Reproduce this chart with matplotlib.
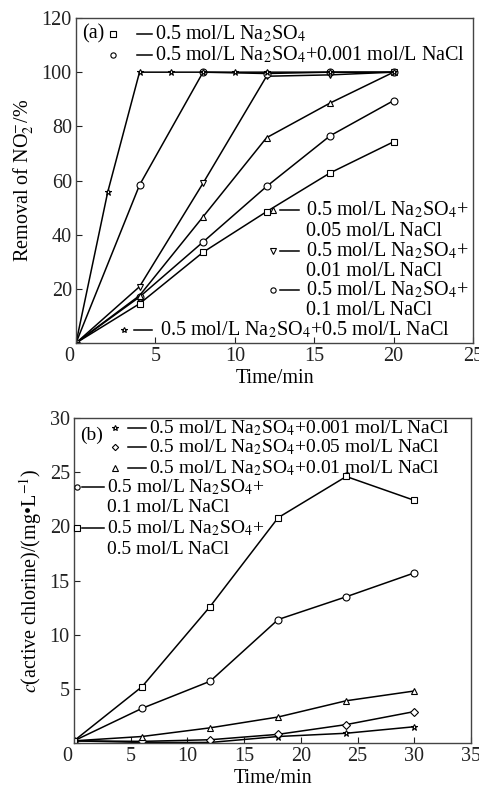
import numpy as np
import matplotlib
matplotlib.use("Agg")
import matplotlib.pyplot as plt
from matplotlib.lines import Line2D
from matplotlib.transforms import ScaledTranslation

plt.rcParams['font.family'] = ['Liberation Serif', 'DejaVu Serif']
plt.rcParams['mathtext.fontset'] = 'stix'

# panel (a): removal of nitrite
t_a = [0, 4, 8, 12, 16, 20]
t_a_star = [0, 2, 4, 6, 8, 10, 12, 16, 20]
rem_na2so4 = [0, 14.5, 33.5, 48.5, 62.8, 74.3]
rem_0001 = [0, 17, 37.3, 57.8, 76.5, 89.5]
rem_005 = [0, 17.5, 46.6, 75.8, 88.6, 100]
rem_001 = [0, 20.8, 59, 98.5, 99, 100]
rem_01 = [0, 58.3, 100, 99.5, 100, 100]
rem_05 = [0, 55.8, 100, 100, 100, 100, 100, 100, 100]

# panel (b): active chlorine
t_b = [0, 6, 12, 18, 24, 30]
cl_0001 = [0.2, 0.05, 0.05, 0.6, 0.9, 1.5]
cl_005 = [0.2, 0.15, 0.3, 0.8, 1.7, 2.9]
cl_001 = [0.2, 0.6, 1.4, 2.4, 3.9, 4.8]
cl_01 = [0.2, 3.2, 5.7, 11.4, 13.5, 15.7]
cl_05 = [0.2, 5.2, 12.6, 20.8, 24.6, 22.4]

W, H = 479, 796
fig = plt.figure(figsize=(W / 100, H / 100), dpi=100)
ax1 = fig.add_axes([76 / W, 1 - 343 / H, 397 / W, 325 / H])
ax2 = fig.add_axes([74 / W, 1 - 743 / H, 397 / W, 325 / H])

fs = 14.5
mk = dict(color='black', lw=1.1, mfc='white', mec='black', mew=0.8, ms=5)

ax1.plot(t_a, rem_na2so4, marker='s', **mk)
ax1.plot(t_a, rem_0001, marker='o', **mk)
ax1.plot(t_a, rem_005, marker='^', **mk)
ax1.plot(t_a, rem_001, marker='v', **mk)
ax1.plot(t_a, rem_01, marker='o', **mk)
ax1.plot(t_a_star, rem_05, marker='*', **mk)

ax2.plot(t_b, cl_0001, marker='*', **mk)
ax2.plot(t_b, cl_005, marker='D', **dict(mk, ms=4))
ax2.plot(t_b, cl_001, marker='^', **mk)
ax2.plot(t_b, cl_01, marker='o', **mk)
ax2.plot(t_b, cl_05, marker='s', **mk)

ax1.set_xlim(0, 25)
ax1.set_ylim(0, 120)
ax1.set_xticks([0, 5, 10, 15, 20, 25])
ax1.set_yticks([0, 20, 40, 60, 80, 100, 120])
ax1.set_yticklabels(['', '20', '40', '60', '80', '100', '120'])
ax1.set_xlabel('Time/min', fontsize=fs, labelpad=2)
ax1.set_ylabel('Removal of NO$_2^{-}$/%', fontsize=fs)

ax2.set_xlim(0, 35)
ax2.set_ylim(0, 30)
ax2.set_xticks([0, 5, 10, 15, 20, 25, 30, 35])
ax2.set_yticks([0, 5, 10, 15, 20, 25, 30])
ax2.set_yticklabels(['', '5', '10', '15', '20', '25', '30'])
ax2.set_xlabel('Time/min', fontsize=fs, labelpad=2)
ax2.set_ylabel('$c$(active chlorine)/(mg•L$^{-1}$)', fontsize=fs)

for ax in (ax1, ax2):
    ax.tick_params(direction='in', labelsize=fs, length=4, width=0.8,
                   colors='#222222', pad=3)
    for s in ax.spines.values():
        s.set_color('#444444')
        s.set_linewidth(1.0)
    fig.canvas.draw()
    lab0 = ax.get_xticklabels()[0]
    lab0.set_transform(lab0.get_transform() +
                       ScaledTranslation(-7 / 100, 0, fig.dpi_scale_trans))


def key(px, py, marker, lx0, lx1, tx, lines, size, ms=3.8):
    # legend entry drawn in figure pixel coords
    y = 1 - py / H
    fig.add_artist(Line2D([lx0 / W, lx1 / W], [y, y], color='black', lw=1.1))
    fig.add_artist(Line2D([px / W], [y], marker=marker, ls='none', mfc='white',
                          mec='black', mew=0.8, ms=ms))
    for i, s in enumerate(lines):
        fig.text(tx / W, 1 - (py + 21 * i) / H, s, fontsize=size,
                 va='center', ha='left')


na = '0.5 mol/L Na$_2$SO$_4$'
fig.text(82 / W, 1 - 34 / H, '(a)', fontsize=fs, va='center')
key(113, 34, 's', 137, 152, 155, [na], fs)
key(113, 55, 'o', 137, 152, 155, [na + '+0.001 mol/L NaCl'], fs)
key(273, 210, '^', 280, 299, 306, [na + '+', '0.05 mol/L NaCl'], fs)
key(273, 251, 'v', 280, 299, 306, [na + '+', '0.01 mol/L NaCl'], fs)
key(273, 290, 'o', 280, 299, 306, [na + '+', '0.1 mol/L NaCl'], fs)
key(124, 330, '*', 134, 152, 160, [na + '+0.5 mol/L NaCl'], fs)

fb = 14
fig.text(80 / W, 1 - 435 / H, '(b)', fontsize=fb, va='center')
key(115, 428, '*', 128, 146, 149, [na + '+0.001 mol/L NaCl'], fb)
key(115, 447, 'D', 128, 146, 149, [na + '+0.05 mol/L NaCl'], fb, ms=3.2)
key(115, 468, '^', 128, 146, 149, [na + '+0.01 mol/L NaCl'], fb)
key(77, 487, 'o', 82, 104, 107, [na + '+', '0.1 mol/L NaCl'], fb)
key(77, 528, 's', 82, 104, 107, [na + '+', '0.5 mol/L NaCl'], fb)

fig.savefig('out.png', dpi=100)
